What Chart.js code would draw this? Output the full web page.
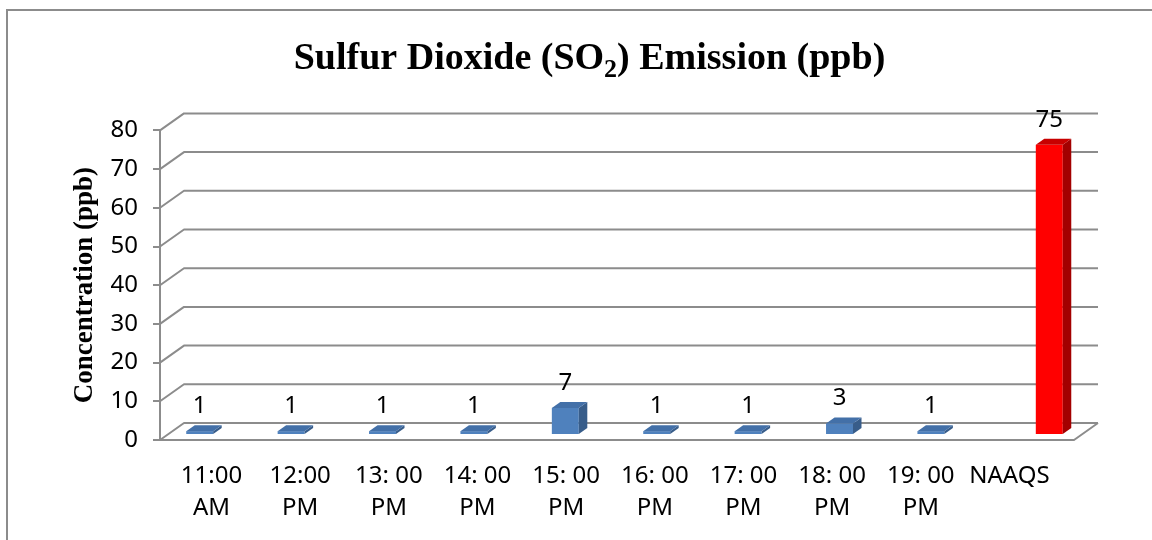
<!DOCTYPE html>
<html>
<head>
<meta charset="utf-8">
<script src="https://cdn.jsdelivr.net/npm/chart.js@4.4.0/dist/chart.umd.min.js"></script>
<style>
  html, body { margin: 0; padding: 0; background: #ffffff; }
  #wrap { width: 1152px; height: 540px; position: relative; }
</style>
</head>
<body>
<div id="wrap"><canvas id="so2"></canvas></div>
<script>
// Hourly SO2 readings (ppb) and the NAAQS one-hour limit
const categories = [
  ['11:00', 'AM'], ['12:00', 'PM'], ['13: 00', 'PM'], ['14: 00', 'PM'], ['15: 00', 'PM'],
  ['16: 00', 'PM'], ['17: 00', 'PM'], ['18: 00', 'PM'], ['19: 00', 'PM'], ['NAAQS']
];
const hourlySO2  = [1, 1, 1, 1, 7, 1, 1, 3, 1, null];
const naaqsLimit = [null, null, null, null, null, null, null, null, null, 75];
const yTicks = [0, 10, 20, 30, 40, 50, 60, 70, 80];

// 3D look: depth of the walls, where the bars stand inside that depth, and bar thickness
const WALL_DX = 24, WALL_DY = -17;
const BAR_SHIFT_X = 7.5, BAR_SHIFT_Y = -5;
const BAR_DX = 8.5, BAR_DY = -6;
const GRID_COLOR = '#8c8c8c';
const LABEL_FONT = { family: '"Noto Sans", "Open Sans", sans-serif', size: 24 };

const chartTitle = {
  id: 'chartTitle',
  beforeDraw(chart) {
    const ctx = chart.ctx;
    ctx.save();
    // outer chart border
    ctx.strokeStyle = GRID_COLOR;
    ctx.lineWidth = 2;
    ctx.strokeRect(7, 10, 1300, 700);
    // title with subscript 2
    const mainFont = 'bold 38px "Liberation Serif", "Times New Roman", serif';
    const subFont = 'bold 26px "Liberation Serif", "Times New Roman", serif';
    const parts = [
      { t: 'Sulfur Dioxide (SO', f: mainFont, dy: 0 },
      { t: '2', f: subFont, dy: 8 },
      { t: ') Emission (ppb)', f: mainFont, dy: 0 }
    ];
    let total = 0;
    parts.forEach(p => { ctx.font = p.f; p.w = ctx.measureText(p.t).width; total += p.w; });
    let x = 589.5 - total / 2;
    const base = 69;
    ctx.fillStyle = '#000000';
    ctx.textAlign = 'left';
    ctx.textBaseline = 'alphabetic';
    parts.forEach(p => { ctx.font = p.f; ctx.fillText(p.t, x, base + p.dy); x += p.w; });
    ctx.restore();
  }
};

const depthFrame = {
  id: 'depthFrame',
  beforeDatasetsDraw(chart) {
    const { ctx, chartArea: { left, right }, scales: { y } } = chart;
    ctx.save();
    ctx.strokeStyle = GRID_COLOR;
    ctx.lineWidth = 2;
    ctx.lineJoin = 'round';
    // side wall diagonals and back wall gridlines
    y.ticks.forEach(t => {
      const yf = y.getPixelForValue(t.value);
      ctx.beginPath();
      ctx.moveTo(left, yf);
      ctx.lineTo(left + WALL_DX, yf + WALL_DY);
      ctx.lineTo(right + WALL_DX, yf + WALL_DY);
      ctx.stroke();
    });
    // floor front and right edges
    const y0 = y.getPixelForValue(0);
    ctx.beginPath();
    ctx.moveTo(left, y0);
    ctx.lineTo(right, y0);
    ctx.lineTo(right + WALL_DX, y0 + WALL_DY);
    ctx.stroke();
    ctx.restore();
    // bars stand a little behind the front plane
    ctx.save();
    ctx.translate(BAR_SHIFT_X, BAR_SHIFT_Y);
  },
  afterDatasetsDraw(chart) {
    const ctx = chart.ctx;
    chart.data.datasets.forEach((ds, di) => {
      const meta = chart.getDatasetMeta(di);
      meta.data.forEach((bar, i) => {
        const v = ds.data[i];
        if (v === null || v === undefined) return;
        const { x, y, base, width } = bar.getProps(['x', 'y', 'base', 'width'], true);
        const l = x - width / 2, r = x + width / 2;
        // right side face
        ctx.fillStyle = ds.sideColor;
        ctx.beginPath();
        ctx.moveTo(r, y);
        ctx.lineTo(r + BAR_DX, y + BAR_DY);
        ctx.lineTo(r + BAR_DX, base + BAR_DY);
        ctx.lineTo(r, base);
        ctx.closePath();
        ctx.fill();
        // top face
        ctx.fillStyle = ds.topColor;
        ctx.beginPath();
        ctx.moveTo(l, y);
        ctx.lineTo(l + BAR_DX, y + BAR_DY);
        ctx.lineTo(r + BAR_DX, y + BAR_DY);
        ctx.lineTo(r, y);
        ctx.closePath();
        ctx.fill();
        // value label
        ctx.fillStyle = '#000000';
        ctx.font = LABEL_FONT.size + 'px ' + LABEL_FONT.family;
        ctx.textAlign = 'center';
        ctx.textBaseline = 'alphabetic';
        ctx.fillText(String(v), x, y - 18);
      });
    });
    ctx.restore();
  }
};

new Chart(document.getElementById('so2'), {
  type: 'bar',
  data: {
    labels: categories.map(c => c.join(' ')),
    datasets: [
      {
        label: 'SO2',
        data: hourlySO2,
        backgroundColor: '#4f81bd',
        sideColor: '#385d8a',
        topColor: '#4370a8',
        borderWidth: 0,
        clip: false
      },
      {
        label: 'NAAQS',
        data: naaqsLimit,
        backgroundColor: '#ff0000',
        sideColor: '#a30000',
        topColor: '#c80000',
        borderWidth: 0,
        clip: false
      }
    ]
  },
  options: {
    responsive: true,
    maintainAspectRatio: false,
    animation: false,
    devicePixelRatio: 1,
    categoryPercentage: 0.59,
    barPercentage: 1.0,
    layout: { padding: { left: 60, right: 78, top: 130.4, bottom: 0 } },
    plugins: { legend: { display: false }, tooltip: { enabled: false }, title: { display: false } },
    scales: {
      x: { display: false, offset: true },
      xl: {
        type: 'linear',
        position: 'bottom',
        offset: false,
        bounds: 'data',
        min: -0.581,
        max: 9.728,
        afterBuildTicks: s => { s.ticks = categories.map((_, i) => ({ value: i })); },
        afterFit: s => { s.height = 100; },
        grid: { display: false, drawTicks: false, offset: false },
        border: { display: false },
        ticks: {
          callback: v => categories[v],
          font: { ...LABEL_FONT, lineHeight: 1.34 },
          color: '#000000',
          padding: 20,
          maxRotation: 0,
          autoSkip: false
        }
      },
      y: {
        min: 0,
        max: 80,
        afterBuildTicks: s => { s.ticks = yTicks.map(v => ({ value: v })); },
        afterFit: s => { s.width = 160 - 60; },
        border: { display: true, color: GRID_COLOR, width: 2 },
        grid: { drawOnChartArea: false, drawTicks: true, tickLength: 7, color: GRID_COLOR, lineWidth: 2 },
        ticks: { font: LABEL_FONT, color: '#000000', padding: 15 },
        title: {
          display: true,
          text: 'Concentration (ppb)',
          color: '#000000',
          font: { family: '"Liberation Serif", "Times New Roman", serif', weight: 'bold', size: 27 },
          padding: { top: 9, bottom: 0 }
        }
      }
    }
  },
  plugins: [chartTitle, depthFrame]
});
</script>
</body>
</html>
